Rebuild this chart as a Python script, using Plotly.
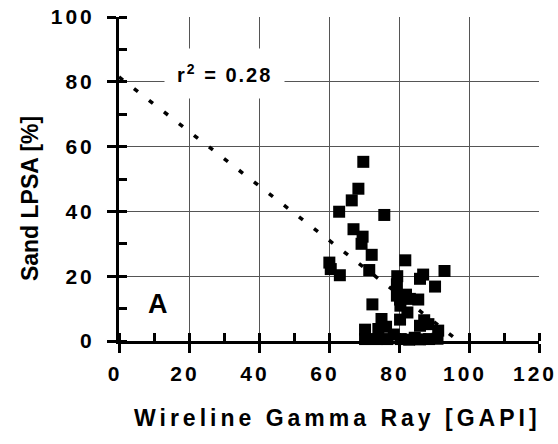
import plotly.graph_objects as go

# Wireline gamma ray (GAPI) vs. sand fraction from LPSA (%)
gamma_ray = [69.8, 68.4, 66.5, 62.9, 75.8, 67.0, 69.6, 69.3, 72.2, 60.1,
             60.5, 63.1, 71.5, 81.8, 79.5, 86.9, 86.0, 93.0, 90.3, 79.4,
             79.4, 82.0, 85.5, 80.3, 83.1, 80.4, 82.4, 72.4, 75.0, 80.3,
             87.2, 70.3, 74.1, 76.3, 86.0, 88.4, 91.2, 70.3, 73.6, 76.7,
             80.5, 82.9, 86.0, 88.6, 91.0, 84.5, 78.5]
sand_lpsa = [55.3, 47.0, 43.4, 39.9, 38.9, 34.5, 32.2, 30.0, 26.6, 24.2,
             22.2, 20.3, 21.9, 24.9, 20.0, 20.5, 19.2, 21.6, 16.8, 17.5,
             14.0, 14.3, 12.8, 12.8, 13.0, 10.9, 8.8, 11.3, 6.8, 6.6,
             6.4, 3.5, 3.7, 4.4, 4.7, 5.2, 3.2, 0.6, 0.6, 0.6,
             0.6, 0.4, 0.5, 0.6, 0.7, 1.0, 2.0]

# Linear trend
trend_intercept = 81.5
trend_slope = -0.84
trend_x = [0, 97.5]
r_squared = 0.28

x_ticks = [0, 20, 40, 60, 80, 100, 120]
x_minor = [0, 10, 20, 30, 40, 50, 60, 70, 80, 90, 100, 110, 120]
y_ticks = [0, 20, 40, 60, 80, 100]
y_minor = [0, 10, 20, 30, 40, 50, 60, 70, 80, 90, 100]

FONT = "Arial, 'Liberation Sans', sans-serif"


def spaced(text, px):
    return f'<span style="letter-spacing:{px}px">{text}</span>'


trend_y = [trend_intercept + trend_slope * x for x in trend_x]

fig = go.Figure()
fig.add_trace(go.Scatter(
    x=trend_x, y=trend_y, mode="lines",
    line=dict(color="black", width=3.5, dash="5px,14px"),
    hoverinfo="skip", showlegend=False,
))
fig.add_trace(go.Scatter(
    x=gamma_ray, y=sand_lpsa, mode="markers",
    marker=dict(symbol="square", size=12, color="black"),
    cliponaxis=False, showlegend=False,
))

grid = "#555555"
tickfont = dict(family=FONT, size=21, color="black", weight="bold")

fig.update_layout(
    width=558, height=444,
    margin=dict(l=119, r=19, t=17, b=103),
    paper_bgcolor="white", plot_bgcolor="white",
    font=dict(family=FONT, color="black"),
    xaxis=dict(
        range=[0, 120], tickmode="array", tickvals=x_ticks,
        ticktext=[spaced(str(v), 3) for v in x_ticks],
        ticks="outside", ticklen=9, tickwidth=3, tickcolor="black",
        minor=dict(tickmode="array", tickvals=x_minor, ticks="inside",
                   ticklen=8, tickwidth=3, tickcolor="black", showgrid=False),
        showline=True, linewidth=3, linecolor="black",
        showgrid=True, gridcolor=grid, gridwidth=1,
        zeroline=False, tickfont=tickfont, ticklabelstandoff=3,
        ticklabelshift=-4, ticklabeloverflow="allow", automargin=False,
    ),
    yaxis=dict(
        range=[0, 100], tickmode="array", tickvals=y_ticks,
        ticktext=[spaced(str(v), 3) for v in y_ticks],
        ticks="outside", ticklen=9, tickwidth=3, tickcolor="black",
        minor=dict(tickmode="array", tickvals=y_minor, ticks="inside",
                   ticklen=8, tickwidth=3, tickcolor="black", showgrid=False),
        showline=True, linewidth=3, linecolor="black",
        showgrid=True, gridcolor=grid, gridwidth=1,
        zeroline=False, tickfont=tickfont, ticklabelstandoff=8,
        ticklabeloverflow="allow", automargin=False,
    ),
    annotations=[
        dict(x=30, y=82.7, xref="x", yref="y",
             text=spaced(f"r<sup>2</sup> = {r_squared:.2f}", 2),
             showarrow=False,
             font=dict(family=FONT, size=20, color="black", weight="bold"),
             bgcolor="white", borderpad=12),
        dict(x=11.1, y=11.3, xref="x", yref="y", text="A", showarrow=False,
             font=dict(family=FONT, size=27, color="black", weight="bold")),
        dict(x=0.5214, y=-0.2377, xref="paper", yref="paper",
             xanchor="center", yanchor="middle", showarrow=False,
             text=spaced("Wireline Gamma Ray [GAPI]", 4),
             font=dict(family=FONT, size=23, color="black", weight="bold")),
        dict(x=-0.2119, y=0.438, xref="paper", yref="paper",
             xanchor="center", yanchor="middle", showarrow=False,
             textangle=-90, text="Sand LPSA [%]",
             font=dict(family=FONT, size=23, color="black", weight="bold")),
    ],
)

fig.write_html("out.html")
